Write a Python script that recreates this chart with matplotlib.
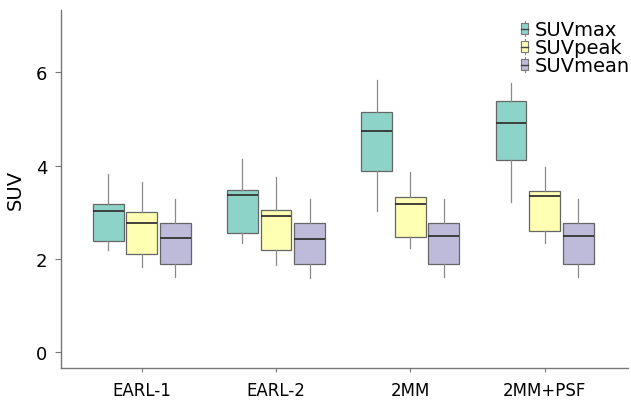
"""
    SUV boxplots by reconstruction
"""
import matplotlib
matplotlib.use('Agg')
import matplotlib.pyplot as plt
from matplotlib.patches import Rectangle
from matplotlib.lines import Line2D
from matplotlib.legend_handler import HandlerBase

plt.rcParams['font.family'] = ['DejaVu Sans']

# groups on the x axis and the three metrics
groups = ['EARL-1', 'EARL-2', '2MM', '2MM+PSF']
metrics = ['SUVmax', 'SUVpeak', 'SUVmean']
colors = ['#8DD3C7', '#FFFFB3', '#BEBADA']

# five-number summaries: [whislo, q1, med, q3, whishi]
suv_max = [[2.20, 2.38, 3.03, 3.18, 3.83],
           [2.35, 2.55, 3.38, 3.47, 4.14],
           [3.03, 3.88, 4.74, 5.14, 5.84],
           [3.21, 4.13, 4.91, 5.39, 5.77]]
suv_peak = [[1.82, 2.10, 2.77, 3.00, 3.64],
            [1.87, 2.20, 2.93, 3.05, 3.76],
            [2.24, 2.47, 3.18, 3.32, 3.87],
            [2.34, 2.59, 3.34, 3.45, 3.97]]
suv_mean = [[1.61, 1.90, 2.45, 2.77, 3.28],
            [1.60, 1.90, 2.43, 2.77, 3.29],
            [1.62, 1.89, 2.50, 2.77, 3.28],
            [1.61, 1.89, 2.50, 2.76, 3.28]]


class BoxHandler(HandlerBase):
    """small boxplot glyph for the legend"""
    def create_artists(self, legend, orig_handle, xd, yd, width, height, fontsize, trans):
        fc = orig_handle.get_facecolor()
        cx = xd + width / 2
        w = width * 0.75
        line = Line2D([cx, cx], [yd - height * 0.1, yd + height * 1.1],
                      color='#888888', lw=0.8, transform=trans)
        box = Rectangle((cx - w / 2, yd + height * 0.05), w, height * 0.9,
                        facecolor=fc, edgecolor='#777777', lw=0.8, transform=trans)
        med = Line2D([cx - w / 2, cx + w / 2], [yd + height / 2] * 2,
                     color='#444444', lw=1.0, transform=trans)
        return [line, box, med]


def main():
    fig, ax = plt.subplots(figsize=(6.31, 4.02), dpi=100)
    fig.subplots_adjust(left=0.097, right=0.995, top=0.973, bottom=0.082)

    offsets = [-0.25, 0, 0.25]
    handles = []
    for k, data in enumerate([suv_max, suv_peak, suv_mean]):
        stats = []
        for i, (lo, q1, med, q3, hi) in enumerate(data):
            stats.append(dict(whislo=lo, q1=q1, med=med, q3=q3, whishi=hi, fliers=[]))
        pos = [i + 1 + offsets[k] for i in range(len(groups))]
        ax.bxp(stats, positions=pos, widths=0.23, showcaps=False, patch_artist=True,
               boxprops=dict(facecolor=colors[k], edgecolor='#666666', lw=0.9),
               whiskerprops=dict(color='#8a8a8a', lw=0.9),
               medianprops=dict(color='#333333', lw=1.3),
               zorder=3)
        handles.append(Rectangle((0, 0), 1, 1, facecolor=colors[k]))

    ax.set_xlim(0.4, 4.62)
    ax.set_ylim(-0.34, 7.34)
    ax.set_xticks(range(1, len(groups) + 1))
    ax.set_xticklabels(groups, fontsize=12)
    ax.set_yticks([0, 2, 4, 6])
    ax.tick_params(axis='y', labelsize=13, length=4, color='#777777', pad=6)
    ax.tick_params(axis='x', length=3, color='#777777', pad=6)
    ax.set_ylabel('SUV', fontsize=14, labelpad=8)
    for s in ['top', 'right']:
        ax.spines[s].set_visible(False)
    for s in ['left', 'bottom']:
        ax.spines[s].set_color('#777777')
        ax.spines[s].set_linewidth(1.0)

    ax.legend(handles, metrics, handler_map={Rectangle: BoxHandler()},
              loc='upper right', bbox_to_anchor=(1.025, 1.005), frameon=False,
              fontsize=14, handlelength=0.5, handleheight=0.65, handletextpad=0.3,
              labelspacing=-0.05, borderaxespad=0.2)

    fig.savefig('out.png')


if __name__ == '__main__':
    main()
